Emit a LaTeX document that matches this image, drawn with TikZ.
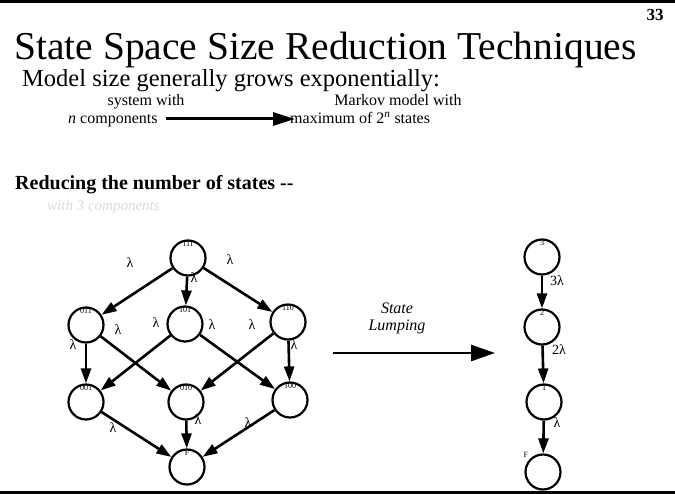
\documentclass[tikz,border=0pt]{standalone}
\usepackage{fontspec}
\setmainfont{Liberation Serif}
\usetikzlibrary{arrows.meta}
\begin{document}
\begin{tikzpicture}[x=1pt,y=-1pt,
  st/.style={circle,draw,line width=2.2pt,minimum size=35pt,inner sep=0pt},
  tr/.style={line width=2.6pt,-{Triangle[length=15pt,width=10pt]}},
  lam/.style={font=\fontsize{14}{14}\selectfont,inner sep=0pt},
  lbl/.style={font=\fontsize{8}{8}\selectfont,inner sep=1.5pt,anchor=north},
  txt/.style={font=\fontsize{16}{17}\selectfont,inner sep=0pt},
  rule/.style={line width=3pt}]
\useasboundingbox (0,0) rectangle (675,494);
% frame rules
\coordinate (tl) at (0,2); \coordinate (tr) at (675,2);
\coordinate (bl) at (0,492); \coordinate (br) at (675,492);
\draw[rule] (tl) -- (tr);
\draw[rule] (bl) -- (br);
% heading
\node[font=\fontsize{17}{17}\selectfont\bfseries,anchor=base,inner sep=0pt] (pg) at (655,21) {33};
\node[font=\fontsize{39.5}{41}\selectfont,anchor=base west,inner sep=0pt] (title) at (14,60) {State Space Size Reduction Techniques};
\node[font=\fontsize{24.5}{26}\selectfont,anchor=base west,inner sep=0pt] (l1) at (22,87) {Model size generally grows exponentially:};
\node[txt,anchor=base] (sw) at (146,106) {system with};
\node[txt,anchor=base west] (nc) at (68,124) {\textit{n} components};
\node[txt,anchor=base] (mm) at (398,106) {Markov model with};
\node[txt,anchor=base west] (mx) at (290,124) {maximum of 2\textsuperscript{\textit{n}} states};
\coordinate (a1) at (166,119);
\coordinate (a2) at (295,119);
\draw[line width=3pt,-{Triangle[length=22pt,width=13pt]}] (a1) -- (a2);
\node[font=\fontsize{20}{21}\selectfont\bfseries,anchor=base west,inner sep=0pt] (red) at (15,190) {Reducing the number of states {-}{-}};
\node[font=\fontsize{15}{16}\selectfont\itshape,text=black!15,anchor=base west,inner sep=0pt] (faint) at (47,211) {with 3 components};
% cube
\node[st,label={[lbl]north:111}] (n111) at (188,258) {};
\node[st,label={[lbl]north:011}] (n011) at (86,325) {};
\node[st,label={[lbl]north:101}] (n101) at (185,324) {};
\node[st,label={[lbl]north:110}] (n110) at (288,322) {};
\node[st,label={[lbl]north:001}] (n001) at (86,402) {};
\node[st,label={[lbl]north:010}] (n010) at (186,402) {};
\node[st,label={[lbl]north:100}] (n100) at (290,400) {};
\node[st,label={[lbl]north:F}] (nF) at (187,467) {};
\draw[tr] (n111) -- (n011);
\draw[tr] (n111) -- (n101);
\draw[tr] (n111) -- (n110);
\draw[tr] (n011) -- (n001);
\draw[tr] (n011) -- (n010);
\draw[tr] (n101) -- (n001);
\draw[tr] (n101) -- (n100);
\draw[tr] (n110) -- (n010);
\draw[tr] (n110) -- (n100);
\draw[tr] (n001) -- (nF);
\draw[tr] (n010) -- (nF);
\draw[tr] (n100) -- (nF);
\node[lam] (e1) at (130,263) {λ};
\node[lam] (e2) at (230,260) {λ};
\node[lam] (e3) at (194,278) {λ};
\node[lam] (e4) at (118,330) {λ};
\node[lam] (e5) at (156,323) {λ};
\node[lam] (e6) at (212,325) {λ};
\node[lam] (e7) at (252,325) {λ};
\node[lam] (e8) at (73,345) {λ};
\node[lam] (e9) at (294,345) {λ};
\node[lam] (e10) at (113,428) {λ};
\node[lam] (e11) at (198,420) {λ};
\node[lam] (e12) at (248,423) {λ};
% lumping arrow
\coordinate (ls) at (333,353);
\coordinate (le) at (495,353);
\draw[line width=2.7pt,-{Triangle[length=24pt,width=16pt]}] (ls) -- (le);
\node[txt,font=\fontsize{16}{17}\selectfont\itshape] (t1) at (397,308) {State};
\node[txt,font=\fontsize{16}{17}\selectfont\itshape] (t2) at (397,327) {Lumping};
% lumped chain
\node[st,label={[lbl]north:3}] (r3) at (542,257) {};
\node[st,label={[lbl]north:2}] (r2) at (542,327) {};
\node[st,label={[lbl]north:1}] (r1) at (544,402) {};
\node[st,label={[lbl,anchor=south east]north west:F}] (rF) at (543,472) {};
\draw[tr] (r3) -- (r2);
\draw[tr] (r2) -- (r1);
\draw[tr] (r1) -- (rF);
\node[lam] (f1) at (557,281) {3λ};
\node[lam] (f2) at (559,350) {2λ};
\node[lam] (f3) at (557,423) {λ};
\end{tikzpicture}
\end{document}
